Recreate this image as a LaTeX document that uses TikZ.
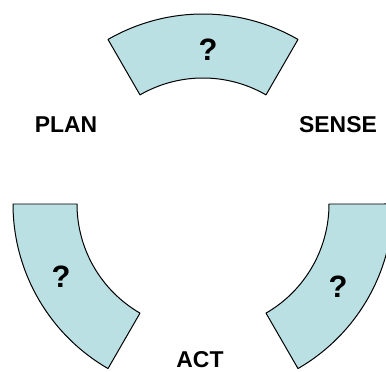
\documentclass[tikz,border=0pt]{standalone}
\usepackage{fontspec}
\setmainfont{Liberation Sans}
\usetikzlibrary{calc}
\definecolor{sectorfill}{RGB}{186,224,227}
\tikzset{
  sector/.style={draw=black,line width=1pt,fill=sectorfill,line join=round},
  lbl/.style={font=\fontsize{23}{26}\selectfont\bfseries,inner sep=0pt},
  qmark/.style={font=\fontsize{31}{34}\selectfont\bfseries,inner sep=0pt}
}
\begin{document}
\begin{tikzpicture}[x=1bp,y=1bp]
  \useasboundingbox (0,0) rectangle (386,372);
  \coordinate (c) at (203,168);
  \foreach \a in {60,180,300}{
    \draw[sector] ($(c)+(\a:190)$) arc[start angle=\a,end angle=\a+60,radius=190bp]
      -- ($(c)+(\a+60:126)$) arc[start angle=\a+60,end angle=\a,radius=126bp] -- cycle;
  }
  \node[qmark] (qtop) at (208,322) {?};
  \node[qmark] (qleft) at (61,95) {?};
  \node[qmark] (qright) at (338,85) {?};
  \node[lbl] (plan) at (66,247) {PLAN};
  \node[lbl] (sense) at (338,247) {SENSE};
  \node[lbl] (act) at (200,12) {ACT};
\end{tikzpicture}
\end{document}
